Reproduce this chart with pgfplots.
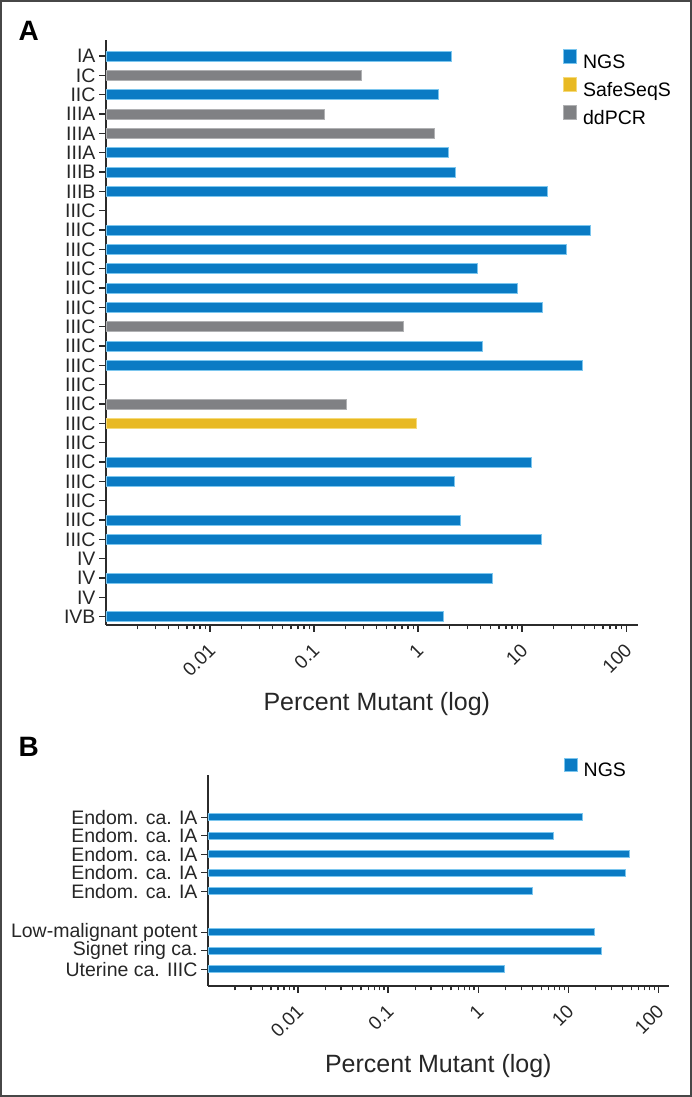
\documentclass[border=0pt]{standalone}
\usepackage{fontspec}
\setmainfont{Liberation Sans}
\usepackage{pgfplots}
\pgfplotsset{compat=1.18}
\definecolor{ngs}{HTML}{0A7BC4}
\definecolor{ngsedge}{HTML}{7CC6EE}
\definecolor{safe}{HTML}{E8B923}
\definecolor{safeedge}{HTML}{F5DA7A}
\definecolor{dd}{HTML}{808184}
\definecolor{ddedge}{HTML}{B0B1B3}
\definecolor{axcol}{HTML}{2B2B2B}
\begin{document}
\begin{tikzpicture}
\path[use as bounding box] (0pt,0pt) rectangle (692pt,1097pt);
\draw[line width=2pt, color=black!72] (1pt,1pt) rectangle (691pt,1096pt);
\node[anchor=base west, font=\fontsize{28}{28}\selectfont\bfseries] at (15pt,1056pt) {A};
\node[anchor=base west, font=\fontsize{28}{28}\selectfont\bfseries] at (15pt,340pt) {B};

% Panel A
\begin{axis}[
  xmode=log, log origin=infty, scale only axis,
  axis lines*=left,
  axis line style={-, line width=1.6pt, color=axcol},
  xbar, bar width=10pt,
  xmin=0.001, xmax=130,
  xtick={0.01,0.1,1,10,100}, xticklabels={\mbox{0.01},\mbox{0.1},\mbox{1},\mbox{10},\mbox{100}},
  minor xtick={0.002,0.003,0.004,0.005,0.006,0.007,0.008,0.009,0.02,0.03,0.04,0.05,0.06,0.07,0.08,0.09,0.2,0.3,0.4,0.5,0.6,0.7,0.8,0.9,2,3,4,5,6,7,8,9,20,30,40,50,60,70,80,90},
  tick align=outside, major tick length=7pt, minor tick length=4.5pt,
  tick style={line width=1.3pt, color=axcol},
  xtick pos=bottom, ytick pos=left,
  xticklabel style={xshift=4.5pt, yshift=-12.5pt, rotate=45, anchor=east, font=\fontsize{19}{19}\selectfont, text=black!85},
  yticklabel style={font=\fontsize{19.5}{20}\selectfont, text=black!85},
  xlabel={Percent Mutant (log)},
  legend style={draw=none, fill=none, inner sep=0pt, anchor=north west,
    font=\fontsize{19.5}{20}\selectfont,
    nodes={inner sep=0pt, text height=14pt, text depth=4pt},
    row sep=5pt,
    /tikz/every odd column/.append style={column sep=6pt}},
  legend cell align=left,
  legend image code/.code={\fill[#1] (0pt,0pt) rectangle (13pt,13.5pt);},
  at={(106pt,472pt)}, anchor=south west,
  width=532pt, height=585pt,
  ymin=-0.43, ymax=29.83,
  ytick={0,...,29},
  yticklabels={IVB,IV,IV,IV,IIIC,IIIC,IIIC,IIIC,IIIC,IIIC,IIIC,IIIC,IIIC,IIIC,IIIC,IIIC,IIIC,IIIC,IIIC,IIIC,IIIC,IIIC,IIIB,IIIB,IIIA,IIIA,IIIA,IIC,IC,IA},
  xlabel style={at={(axis description cs:0.509,-0.147)}, anchor=base, font=\fontsize{25}{25}\selectfont, text=black!85},
  legend style={at={(axis description cs:0.859,0.9846)}},
]
\addplot[fill=ngs, draw=ngsedge, line width=0.9pt, bar shift=0pt] coordinates {
(2.08,29) (1.56,27) (1.96,24) (2.27,23) (17.7,22) (45.7,20) (26.9,19) (3.71,18)
(8.93,17) (15.6,16) (4.12,14) (38.3,13) (12.3,8) (2.25,7) (2.58,5) (15.4,4)
(5.17,2) (1.76,0)};
\addlegendentry{NGS}
\addplot[fill=safe, draw=safeedge, line width=0.9pt, bar shift=0pt] coordinates {(0.97,10)};
\addlegendentry{SafeSeqS}
\addplot[fill=dd, draw=ddedge, line width=0.9pt, bar shift=0pt] coordinates {
(0.286,28) (0.125,26) (1.43,25) (0.72,15) (0.203,11)};
\addlegendentry{ddPCR}
\end{axis}

% Panel B
\begin{axis}[
  xmode=log, log origin=infty, scale only axis,
  axis lines*=left,
  axis line style={-, line width=1.6pt, color=axcol},
  xbar, bar width=7pt,
  xmin=0.001, xmax=130,
  xtick={0.01,0.1,1,10,100}, xticklabels={\mbox{0.01},\mbox{0.1},\mbox{1},\mbox{10},\mbox{100}},
  minor xtick={0.002,0.003,0.004,0.005,0.006,0.007,0.008,0.009,0.02,0.03,0.04,0.05,0.06,0.07,0.08,0.09,0.2,0.3,0.4,0.5,0.6,0.7,0.8,0.9,2,3,4,5,6,7,8,9,20,30,40,50,60,70,80,90},
  tick align=outside, major tick length=7pt, minor tick length=4.5pt,
  tick style={line width=1.3pt, color=axcol},
  xtick pos=bottom, ytick pos=left,
  xticklabel style={xshift=4.5pt, yshift=-12.5pt, rotate=45, anchor=east, font=\fontsize{19}{19}\selectfont, text=black!85},
  yticklabel style={font=\fontsize{19.5}{20}\selectfont, text=black!85},
  xlabel={Percent Mutant (log)},
  legend style={draw=none, fill=none, inner sep=0pt, anchor=north west,
    font=\fontsize{19.5}{20}\selectfont,
    nodes={inner sep=0pt, text height=14pt, text depth=4pt},
    row sep=5pt,
    /tikz/every odd column/.append style={column sep=6pt}},
  legend cell align=left,
  legend image code/.code={\fill[#1] (0pt,0pt) rectangle (13pt,13.5pt);},
  at={(208pt,111pt)}, anchor=south west,
  width=460.6pt, height=211pt,
  ymin=-0.9, ymax=10.5,
  ytick={0,1,2,4.22,5.22,6.22,7.22,8.22},
  yticklabels={Uterine ca. IIIC,Signet ring ca.,Low-malignant potent,Endom. ca. IA,Endom. ca. IA,Endom. ca. IA,Endom. ca. IA,Endom. ca. IA},
  xlabel style={at={(axis description cs:0.5,-0.408)}, anchor=base, font=\fontsize{25}{25}\selectfont, text=black!85},
  legend style={at={(axis description cs:0.772,1.083)}},
]
\addplot[fill=ngs, draw=ngsedge, line width=0.9pt, bar shift=0pt] coordinates {
(1.94,0) (23.3,1) (19.7,2) (4.05,4.22) (43.3,5.22) (48,6.22) (6.8,7.22) (14.2,8.22)};
\addlegendentry{NGS}
\end{axis}
\end{tikzpicture}
\end{document}
